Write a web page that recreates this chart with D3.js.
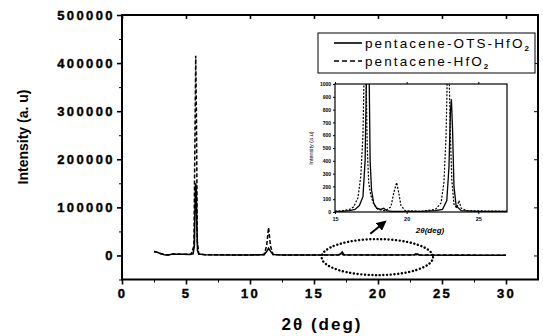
<!DOCTYPE html>
<html>
<head>
<meta charset="utf-8">
<style>
  body{ margin:0; background:#fff; }
  text{ font-family:"Liberation Sans", Arial, sans-serif; fill:#000; }
</style>
<script src="https://d3js.org/d3.v7.min.js"></script>
</head>
<body>
<script>
// main pattern, 2theta (deg) vs intensity (a.u)
var mainXTicks = [0, 5, 10, 15, 20, 25, 30];
var mainYTicks = [0, 100000, 200000, 300000, 400000, 500000];
var solidMain = [[2.5,8000],[2.7,7000],[3.0,4000],[3.3,1500],[3.6,1000],[4.0,3000],[4.3,2500],[4.8,2500],[5.3,2000],
  [5.55,3500],[5.65,20000],[5.7,90000],[5.75,150000],[5.8,140000],[5.85,60000],[5.9,10000],[6.0,3000],[6.5,1500],
  [8,1000],[10,1000],[11.1,1500],[11.3,8000],[11.45,15000],[11.6,9000],[11.8,2000],[12.5,1000],[15,800],
  [17.0,1500],[17.2,7000],[17.35,1500],[20,800],[23.0,1500],[23.1,3000],[23.2,1000],[26,500],[30,500]];
var dashedMain = [[2.5,8000],[2.7,7000],[3.0,4000],[3.3,1500],[3.6,1000],[4.0,3000],[4.8,2500],[5.4,2500],
  [5.62,20000],[5.7,250000],[5.76,415000],[5.82,280000],[5.88,30000],[6.0,3000],[6.5,1500],[10,1000],
  [11.1,2000],[11.3,20000],[11.45,58000],[11.6,20000],[11.8,2000],[12.5,1000],[16.9,1000],[17.1,4000],
  [17.3,1000],[22.8,1000],[22.95,3500],[23.1,1000],[30,500]];

// inset, 15-27 deg
var insetXTicks = [15, 20, 25];
var insetYTicks = [0, 100, 200, 300, 400, 500, 600, 700, 800, 900, 1000];
var solidInset = [[15,5],[15.5,5],[16,10],[16.4,20],[16.7,50],[16.95,120],[17.1,400],[17.2,1100],[17.3,1500],
  [17.38,1100],[17.45,400],[17.55,170],[17.7,70],[17.9,30],[18.2,20],[18.4,30],[18.6,10],[19,5],[20,5],[21,5],
  [22,10],[22.5,20],[22.8,90],[22.95,350],[23.05,780],[23.12,880],[23.2,650],[23.3,200],[23.45,50],[23.8,10],[25,5],[27,5]];
var dashedInset = [[15,5],[15.5,10],[16,20],[16.3,40],[16.6,110],[16.8,280],[16.95,600],[17.05,1200],[17.15,1200],
  [17.25,500],[17.35,230],[17.5,130],[17.7,60],[18,20],[18.5,10],[18.9,40],[19.1,150],[19.3,230],[19.45,150],
  [19.6,50],[19.9,10],[21,5],[22,20],[22.4,70],[22.6,230],[22.75,600],[22.85,1150],[22.95,1150],[23.05,600],
  [23.15,250],[23.3,60],[23.5,30],[23.65,90],[23.8,30],[24.2,10],[27,5]];

var legendNames = ["pentacene-OTS-HfO", "pentacene-HfO"];

var width = 543, height = 336;
var svg = d3.select("body").append("svg").attr("width", width).attr("height", height);

var x = d3.scaleLinear().domain([0, 32.5]).range([122, 538]);
var y = d3.scaleLinear().domain([-50000, 500000]).range([279.5, 15]);

// frame
svg.append("rect").attr("x", 122).attr("y", 15).attr("width", 416).attr("height", 264.5)
  .attr("fill", "none").attr("stroke", "#000").attr("stroke-width", 2);

// y axis
var yAx = d3.axisLeft(y).tickValues(mainYTicks).tickSize(5).tickPadding(4).tickFormat(d3.format("d"));
var gy = svg.append("g").attr("transform", "translate(122,0)").call(yAx);
gy.select(".domain").remove();
gy.selectAll("line").attr("stroke-width", 1.6);
gy.selectAll("text").attr("font-size", 13).attr("font-weight", "bold").attr("letter-spacing", 2.4)
  .attr("dx", 2).attr("stroke", "#000").attr("stroke-width", 0.4);
svg.append("g").attr("transform", "translate(122,0)")
  .call(d3.axisLeft(y).tickValues(d3.range(-50000, 500001, 50000).filter(function(d){ return d % 100000 != 0; })).tickSize(3).tickFormat(""))
  .call(function(g){ g.select(".domain").remove(); });
svg.append("g").attr("transform", "translate(538,0)")
  .call(d3.axisLeft(y).tickValues(mainYTicks).tickSize(4).tickFormat(""))
  .call(function(g){ g.select(".domain").remove(); });

// x axis
var xAx = d3.axisBottom(x).tickValues(mainXTicks).tickSize(5).tickPadding(4);
var gx = svg.append("g").attr("transform", "translate(0,279.5)").call(xAx);
gx.select(".domain").remove();
gx.selectAll("line").attr("stroke-width", 1.6);
gx.selectAll("text").attr("font-size", 13).attr("font-weight", "bold").attr("letter-spacing", 2.4)
  .attr("stroke", "#000").attr("stroke-width", 0.4);
svg.append("g").attr("transform", "translate(0,279.5)")
  .call(d3.axisBottom(x).tickValues(d3.range(2.5, 32.5, 5)).tickSize(3).tickFormat(""))
  .call(function(g){ g.select(".domain").remove(); });
svg.append("g").attr("transform", "translate(0,15)")
  .call(d3.axisBottom(x).tickValues(mainXTicks).tickSize(4).tickFormat(""))
  .call(function(g){ g.select(".domain").remove(); g.selectAll("line").attr("stroke-width", 1.6); });

// axis titles
svg.append("text").attr("transform", "translate(28,137) rotate(-90)").attr("text-anchor", "middle")
  .attr("font-size", 14).attr("font-weight", "bold").text("Intensity (a. u)");
svg.append("text").attr("x", 322).attr("y", 330).attr("text-anchor", "middle")
  .attr("font-size", 17).attr("font-weight", "bold").attr("letter-spacing", 2).text("2θ (deg)");

var line = d3.line().x(function(d){ return x(d[0]); }).y(function(d){ return y(d[1]); });
svg.append("path").datum(dashedMain).attr("d", line).attr("fill", "none").attr("stroke", "#000")
  .attr("stroke-width", 1.5).attr("stroke-dasharray", "4,2");
svg.append("path").datum(solidMain).attr("d", line).attr("fill", "none").attr("stroke", "#000")
  .attr("stroke-width", 1.6);

// dotted ellipse and arrow
svg.append("ellipse").attr("cx", x(19.95)).attr("cy", y(-3500)).attr("rx", x(24.3) - x(19.95)).attr("ry", 18)
  .attr("fill", "none").attr("stroke", "#000").attr("stroke-width", 2.4)
  .attr("stroke-dasharray", "0.1,3.6").attr("stroke-linecap", "round");
svg.append("defs").append("marker").attr("id", "ah").attr("viewBox", "0 0 10 10").attr("refX", 8).attr("refY", 5)
  .attr("markerWidth", 5).attr("markerHeight", 5).attr("orient", "auto")
  .append("path").attr("d", "M0,0L10,5L0,10z").attr("fill", "#000");
svg.append("line").attr("x1", x(19.4)).attr("y1", y(45000)).attr("x2", x(20.55)).attr("y2", y(70000))
  .attr("stroke", "#000").attr("stroke-width", 2).attr("marker-end", "url(#ah)");

// legend
var leg = svg.append("g");
leg.append("rect").attr("x", 318).attr("y", 33).attr("width", 217).attr("height", 40)
  .attr("fill", "#fff").attr("stroke", "#000").attr("stroke-width", 1);
legendNames.forEach(function(n, i){
  var ly = 43 + i * 18;
  leg.append("line").attr("x1", 334).attr("x2", 362).attr("y1", ly).attr("y2", ly).attr("stroke", "#000")
    .attr("stroke-width", 1.6).attr("stroke-dasharray", i == 1 ? "5,3" : null);
  var t = leg.append("text").attr("x", 365).attr("y", ly + 5).attr("font-size", 13.5).attr("letter-spacing", 2.1).text(n);
  t.append("tspan").attr("dy", 3).attr("font-size", 8).attr("font-weight", "bold").text("2");
});

// inset
var ix = d3.scaleLinear().domain([15, 27]).range([335, 507]);
var iy = d3.scaleLinear().domain([0, 1000]).range([212, 84]);
svg.append("rect").attr("x", 335).attr("y", 84).attr("width", 172).attr("height", 128)
  .attr("fill", "#fff").attr("stroke", "#000").attr("stroke-width", 1.2);
svg.append("clipPath").attr("id", "ic").append("rect").attr("x", 335).attr("y", 84).attr("width", 172).attr("height", 128);
var iline = d3.line().x(function(d){ return ix(d[0]); }).y(function(d){ return iy(d[1]); });
svg.append("path").datum(dashedInset).attr("d", iline).attr("clip-path", "url(#ic)").attr("fill", "none")
  .attr("stroke", "#000").attr("stroke-width", 1.2).attr("stroke-dasharray", "2,1.5");
svg.append("path").datum(solidInset).attr("d", iline).attr("clip-path", "url(#ic)").attr("fill", "none")
  .attr("stroke", "#000").attr("stroke-width", 1.3);

var giy = svg.append("g").attr("transform", "translate(335,0)")
  .call(d3.axisLeft(iy).tickValues(insetYTicks).tickSize(2).tickPadding(2).tickFormat(d3.format("d")));
giy.select(".domain").remove();
giy.selectAll("text").attr("font-size", 5).attr("font-weight", "bold");
var gix = svg.append("g").attr("transform", "translate(0,212)")
  .call(d3.axisBottom(ix).tickValues(insetXTicks).tickSize(2).tickPadding(3));
gix.select(".domain").remove();
gix.selectAll("text").attr("font-size", 5.5).attr("font-weight", "bold");
svg.append("g").attr("transform", "translate(0,84)")
  .call(d3.axisTop(ix).tickValues(insetXTicks).tickSize(2).tickFormat(""))
  .call(function(g){ g.select(".domain").remove(); });
svg.append("text").attr("transform", "translate(313,148) rotate(-90)").attr("text-anchor", "middle")
  .attr("font-size", 5.5).text("Intensity (a.u)");
svg.append("text").attr("x", 430).attr("y", 233).attr("text-anchor", "middle")
  .attr("font-size", 8).attr("font-weight", "bold").attr("font-style", "italic").text("2θ(deg)");
</script>
</body>
</html>
